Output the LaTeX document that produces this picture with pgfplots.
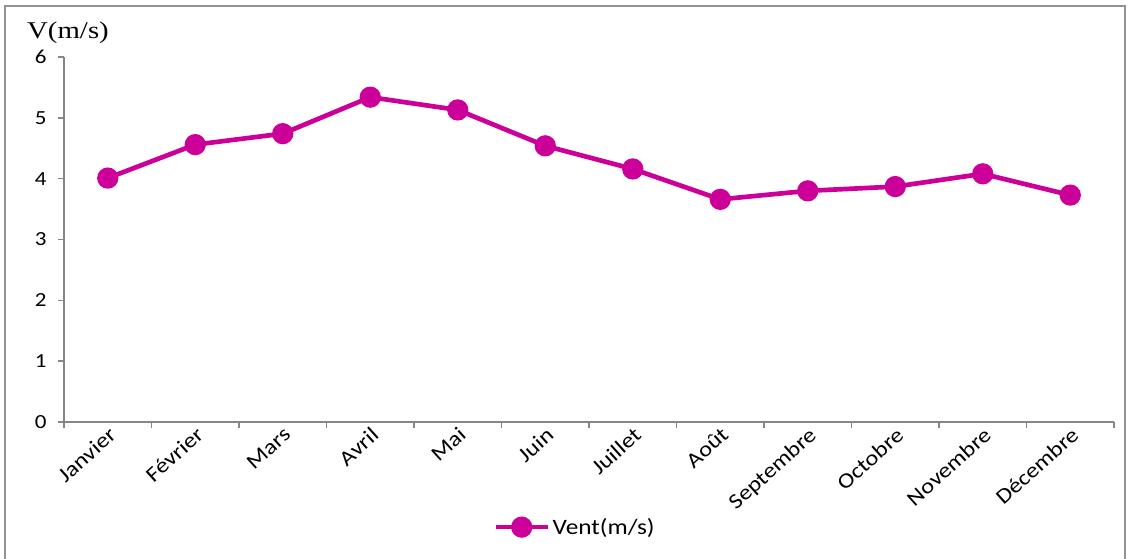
\documentclass[border=0pt]{standalone}
\usepackage{pgfplots}
\pgfplotsset{compat=1.18}
\usepackage{fontspec}
\setmainfont{Carlito}[FakeStretch=1.15]
\newfontfamily\serifV{Liberation Serif}[FakeStretch=1.2]
\definecolor{vent}{RGB}{204,0,153}
\definecolor{axgray}{RGB}{134,134,134}

\begin{document}
\begin{tikzpicture}
\path[use as bounding box] (-48pt,-102pt) rectangle (801pt,316.5pt);
\draw[axgray!90, line width=1.2pt] (-44.25pt,-103pt) -- (-44.25pt,312pt) -- (795.75pt,312pt) -- (795.75pt,-103pt);
\begin{axis}[
    at={(0pt,0pt)}, anchor=south west,
    scale only axis, width=787.5pt, height=273.75pt,
    xmin=0.5, xmax=12.5, ymin=0, ymax=6,
    axis lines=left,
    axis line style={-, axgray, line width=1.2pt},
    tick style={axgray, line width=1.2pt},
    tick align=outside, major tick length=4.5pt,
    xtick={0.5,1.5,...,12.5},
    xticklabels={\empty,\empty,\empty,\empty,\empty,\empty,\empty,\empty,\empty,\empty,\empty,\empty,\empty},
    extra x ticks={1,...,12},
    extra x tick labels={Janvier,Février,Mars,Avril,Mai,Juin,Juillet,Août,Septembre,Octobre,Novembre,Décembre},
    extra x tick style={major tick length=0pt,
        xticklabel style={rotate=42, anchor=north east, font=\fontsize{16}{16}\selectfont, inner sep=2pt}},
    ytick={0,...,6},
    yticklabel style={font=\fontsize{15}{15}\selectfont, xshift=-5pt},
    /pgf/number format/assume math mode=true,
    legend style={at={(axis description cs:0.487,-0.288)}, anchor=center, draw=none, fill=none,
        font=\fontsize{16.5}{16.5}\selectfont},
    legend image code/.code={\draw[mark repeat=2, mark phase=2, #1] plot coordinates {(0pt,0pt) (19.5pt,0pt) (39pt,0pt)};},
]
\addplot[vent, line width=3.5pt, mark=*, mark size=6.2pt, mark options={solid}] coordinates {
    (1,4.01) (2,4.56) (3,4.74) (4,5.34) (5,5.13) (6,4.54)
    (7,4.16) (8,3.66) (9,3.80) (10,3.87) (11,4.08) (12,3.73)
};
\legend{Vent(m/s)}
\end{axis}
\node[font=\serifV\fontsize{18}{18}\selectfont, anchor=center] at (3pt,291.75pt) {V(m/s)};
\end{tikzpicture}
\end{document}
